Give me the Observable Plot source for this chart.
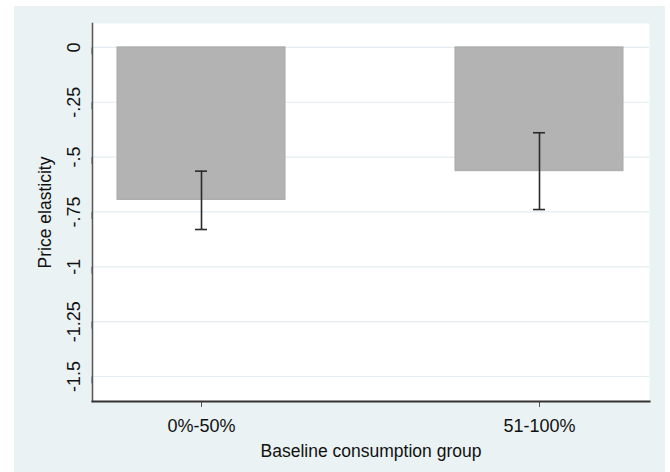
<!DOCTYPE html>
<html><head><meta charset="utf-8">
<script src="https://cdn.jsdelivr.net/npm/d3@7"></script>
<script src="https://cdn.jsdelivr.net/npm/@observablehq/plot@0.6"></script>
<style>
html,body{margin:0;padding:0;background:#fff;}
#chart{position:absolute;left:14px;top:6px;width:651px;height:466px;background:#EAF2F3;overflow:hidden;}
#chart svg{display:block;}
</style></head><body><div id="chart"></div>
<script>
const categories = ["0%-50%", "51-100%"];
const elasticity = [-0.695, -0.564];
const ciLow = [-0.830, -0.739];
const ciHigh = [-0.564, -0.389];
const yTicks = [0, -0.25, -0.5, -0.75, -1, -1.25, -1.5];
const xTitle = "Baseline consumption group";
const yTitle = "Price elasticity";

const data = categories.map((c, i) => ({group: c, value: elasticity[i], lo: ciLow[i], hi: ciHigh[i]}));
const fmt = d => d === 0 ? "0" : String(d).replace("0.", ".");
const font = "'Liberation Sans', Arial, sans-serif";
const ink = "#111";
const errColor = "#2b2b2b";

const plot = Plot.plot({
  width: 651, height: 466,
  marginLeft: 78, marginRight: 16, marginTop: 17, marginBottom: 71,
  style: {background: "transparent", fontFamily: font, color: ink, overflow: "visible"},
  x: {domain: categories, paddingInner: 0.5015, paddingOuter: 0.0723, axis: null},
  y: {domain: [-1.614, 0.109], axis: null},
  marks: [
    Plot.frame({fill: "white", stroke: null}),
    Plot.gridY(yTicks, {stroke: "#e3edf1", strokeOpacity: 1, strokeWidth: 1.2}),
    Plot.barY(data, {x: "group", y: "value", fill: "#b3b3b3", stroke: "#a8a8a8", strokeWidth: 1}),
    Plot.ruleX(data, {x: "group", y1: "lo", y2: "hi", stroke: errColor, strokeWidth: 1.6}),
    Plot.tickY(data, {x: "group", y: "lo", stroke: errColor, strokeWidth: 1.6, insetLeft: 78, insetRight: 78}),
    Plot.tickY(data, {x: "group", y: "hi", stroke: errColor, strokeWidth: 1.6, insetLeft: 78, insetRight: 78}),
    Plot.axisY({ticks: yTicks, tickFormat: fmt, tickSize: 7, tickPadding: 11, rotate: -90, textAnchor: "middle", lineAnchor: "middle", fontSize: 18, stroke: "#555", fill: ink}),
    Plot.axisX({ticks: categories, tickSize: 6, tickPadding: 12.2, fontSize: 18, stroke: "#555", fill: ink, label: null}),
    Plot.frame({anchor: "left", stroke: "#555", strokeWidth: 1.5}),
    Plot.frame({anchor: "bottom", stroke: "#333", strokeWidth: 2}),
    Plot.text([xTitle], {text: d => d, frameAnchor: "bottom", dy: 49.4, fontSize: 17.5, lineAnchor: "middle", textAnchor: "middle", fill: ink}),
    Plot.text([yTitle], {text: d => d, frameAnchor: "left", rotate: -90, dx: -47.6, fontSize: 17.5, lineAnchor: "middle", textAnchor: "middle", fill: ink})
  ]
});
document.getElementById("chart").appendChild(plot);
</script>
</body></html>
